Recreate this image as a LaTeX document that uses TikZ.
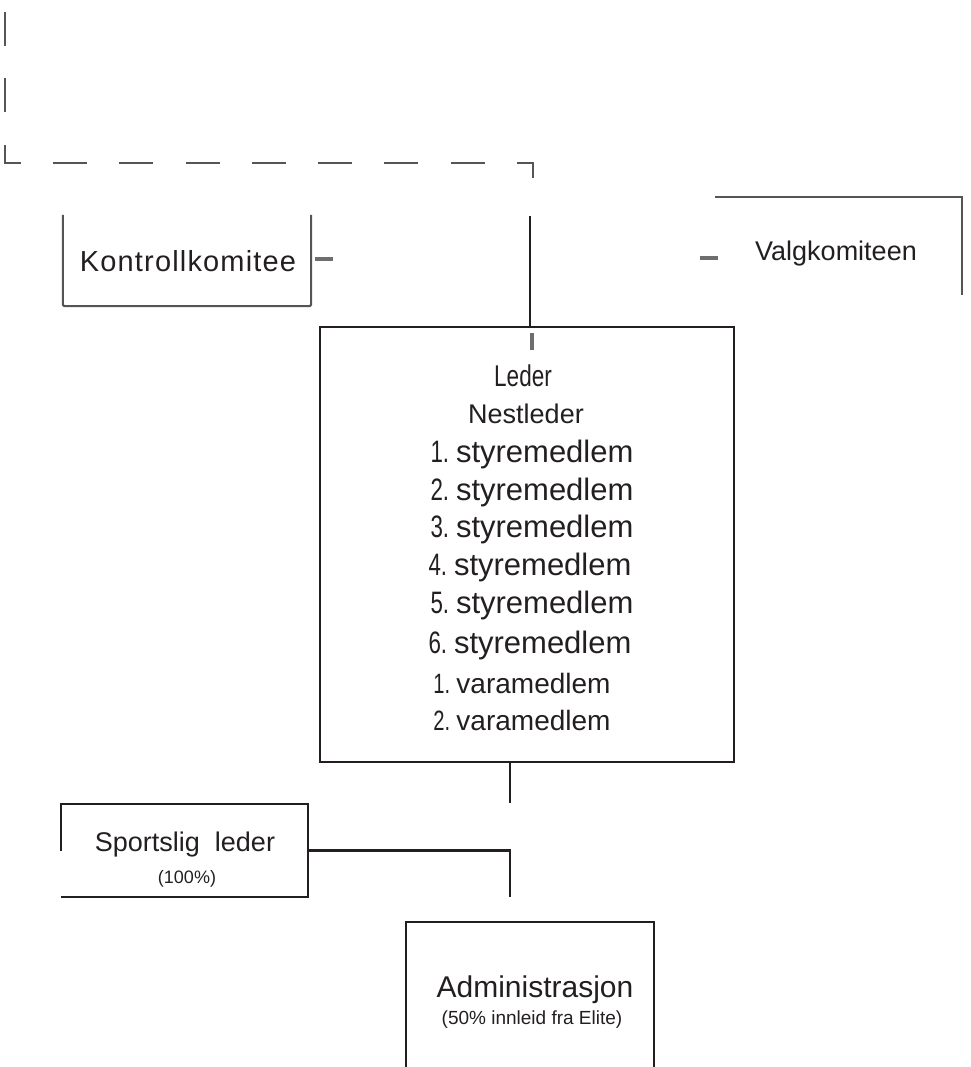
\documentclass[tikz,border=0pt]{standalone}
\usepackage{fontspec}
\setmainfont{Liberation Sans}
\usetikzlibrary{calc,positioning}
\definecolor{inkblack}{RGB}{35,31,32}
\definecolor{inkgray}{RGB}{85,85,85}
\definecolor{stubgray}{RGB}{110,110,110}
\newcommand{\myfs}[1]{\fontsize{#1}{#1}\selectfont}
\newcommand{\condnum}[1]{\scalebox{0.72}[1]{#1}\hspace{0.22em}}
\tikzset{
    boxsty/.style={rectangle,inner sep=0pt,draw=none},
    framesty/.style={draw=inkblack,line width=2.2pt},
    greyframesty/.style={draw=inkgray,line width=2pt,rounded corners=1.5pt},
    thinframesty/.style={draw=inkgray,line width=1.5pt},
    linksty/.style={draw=inkblack,line width=2.2pt},
    dashsty/.style={draw=inkgray,line width=2.3pt,dash pattern=on 34pt off 32.3pt},
    stubsty/.style={draw=stubgray,line width=4.5pt},
    textsty/.style={anchor=base,inner sep=0pt,text=inkblack},
    membersty/.style={textsty,font=\myfs{31}},
    varasty/.style={textsty,font=\myfs{28}},
}

\begin{document}
\begin{tikzpicture}[x=1pt,y=-1pt]
  \useasboundingbox (0,0) rectangle (970,1067);

  \coordinate (dashstart) at (5,12);
  \coordinate (dashcorner) at (5,163);
  \coordinate (dashend) at (533,178);
  \draw[dashsty] (dashstart) -- (dashcorner) -- (dashcorner -| dashend) -- (dashend);

  \node[boxsty,minimum width=248pt,minimum height=91pt] (kontroll) at (187,260.5) {};
  \draw[greyframesty] (kontroll.north west) -- (kontroll.south west) -- (kontroll.south east) -- (kontroll.north east);
  \node[textsty,font=\myfs{29}\addfontfeature{LetterSpace=4}] (kontrolltxt) at (188,271) {Kontrollkomitee};
  \draw[stubsty] ([xshift=4pt,yshift=1.5pt]kontroll.east) -- ++(18pt,0);

  \node[boxsty,minimum width=247pt,minimum height=98pt] (valg) at (838.5,246) {};
  \draw[thinframesty] (valg.north west) -- (valg.north east) -- (valg.south east);
  \node[textsty,font=\myfs{27}] (valgtxt) at (836,260) {Valgkomiteen};
  \draw[stubsty] ([xshift=-15pt,yshift=-12pt]valg.west) -- ++(18pt,0);

  \node[boxsty,framesty,minimum width=414pt,minimum height=435pt] (styret) at (527,544.5) {};
  \coordinate (toptap) at (530,216);
  \draw[linksty] (toptap) -- (toptap |- styret.north);
  \draw[stubsty,line width=4pt] ([xshift=5pt,yshift=-24pt]styret.north) -- ++(0,17pt);

  \node[textsty,font=\myfs{30}] (leder) at (523,386) {\scalebox{0.75}[1]{Leder}};
  \node[textsty,font=\myfs{27}] (nestleder) at (526,423) {Nestleder};
  \node[membersty] (styre1) at (532,462) {\condnum{1.}styremedlem};
  \node[membersty] (styre2) at (532,500) {\condnum{2.}styremedlem};
  \node[membersty] (styre3) at (532,537) {\condnum{3.}styremedlem};
  \node[membersty] (styre4) at (530,575) {\condnum{4.}styremedlem};
  \node[membersty] (styre5) at (532,613) {\condnum{5.}styremedlem};
  \node[membersty] (styre6) at (530,653) {\condnum{6.}styremedlem};
  \node[varasty] (vara1) at (522,693) {\condnum{1.}varamedlem};
  \node[varasty] (vara2) at (522,730) {\condnum{2.}varamedlem};

  \coordinate (midtap) at (510,803);
  \draw[linksty] (styret.south -| midtap) -- (midtap);

  \node[boxsty,minimum width=247pt,minimum height=93pt] (sportslig) at (184.5,850.5) {};
  \draw[framesty] (sportslig.west) -- (sportslig.north west) -- (sportslig.north east) -- (sportslig.south east) -- (sportslig.south west);
  \node[textsty,font=\myfs{27}] (sportsligtxt) at (185,851) {Sportslig~ leder};
  \node[textsty,font=\myfs{18}] (sportsligpct) at (187,883) {(100\%)};

  \coordinate (admintap) at (510,897);
  \draw[linksty] (sportslig.east) -| (admintap);

  \node[boxsty,minimum width=248pt,minimum height=148pt] (admin) at (530,996) {};
  \draw[framesty] (admin.south west) -- (admin.north west) -- (admin.north east) -- (admin.south east);
  \node[textsty,font=\myfs{30}] (admintxt) at (535,997) {Administrasjon};
  \node[textsty,font=\myfs{19}] (adminpct) at (532,1024) {(50\% innleid fra Elite)};
\end{tikzpicture}
\end{document}
